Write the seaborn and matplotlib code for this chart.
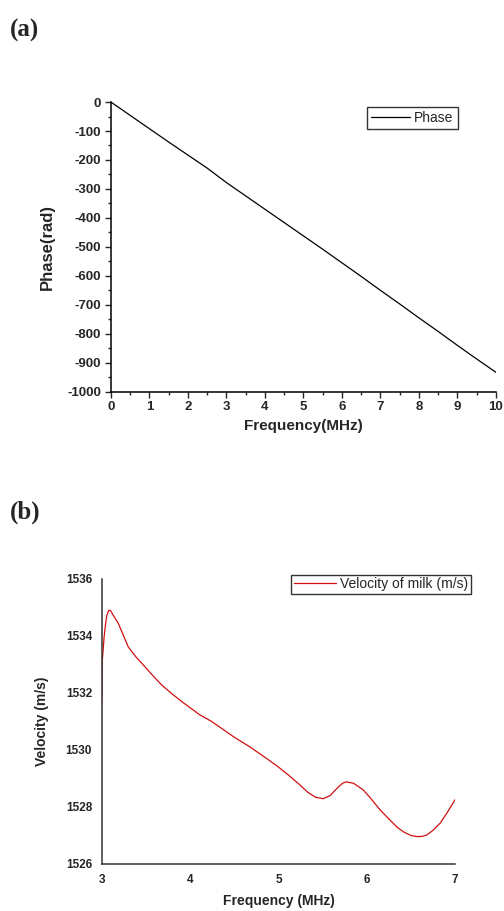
import matplotlib
matplotlib.use("Agg")
import matplotlib.pyplot as plt
import seaborn as sns
import pandas as pd
from matplotlib.ticker import MultipleLocator

sns.set_style("ticks")
plt.rcParams['font.family'] = ['Liberation Sans', 'DejaVu Sans']
plt.rcParams['axes.unicode_minus'] = False

# Panel (a): phase vs frequency
phase_freq = [0, 0.5, 1, 1.5, 2, 2.5, 3, 3.5, 4, 4.5, 5, 5.5, 6, 6.5, 7, 7.5, 8, 8.5, 9, 9.5, 10]
phase_vals = [0, -46, -92, -138, -183, -228, -278, -324, -370, -416, -462, -508, -555, -602, -650, -697, -745, -792, -840, -887, -933]

# Panel (b): velocity of milk vs frequency
vel_freq = [3.0, 3.003, 3.006, 3.015, 3.026, 3.04, 3.055, 3.079, 3.1, 3.13, 3.185, 3.24, 3.298, 3.39,
            3.487, 3.58, 3.677, 3.79, 3.903, 4.11, 4.243, 4.488, 4.68, 4.866, 5.0, 5.12, 5.244,
            5.33, 5.42, 5.508, 5.584, 5.678, 5.73, 5.77, 5.85, 5.96, 6.05, 6.15, 6.25, 6.34,
            6.42, 6.5, 6.57, 6.63, 6.68, 6.75, 6.83, 6.91, 7.0]
vel_vals = [1531.65, 1532.3, 1533.16, 1533.5, 1533.96, 1534.35, 1534.7, 1534.9, 1534.88, 1534.72,
            1534.45, 1534.05, 1533.62, 1533.25, 1532.92, 1532.6, 1532.28, 1531.98, 1531.7, 1531.23,
            1531.0, 1530.47, 1530.1, 1529.7, 1529.4, 1529.1, 1528.77, 1528.52, 1528.34, 1528.29,
            1528.4, 1528.7, 1528.84, 1528.88, 1528.83, 1528.6, 1528.28, 1527.9, 1527.58, 1527.3,
            1527.12, 1527.0, 1526.96, 1526.97, 1527.02, 1527.18, 1527.43, 1527.8, 1528.26]

df_a = pd.DataFrame({"Frequency": phase_freq, "Phase": phase_vals})
df_b = pd.DataFrame({"Frequency": vel_freq, "Velocity": vel_vals})

fig = plt.figure(figsize=(5.04, 9.11), dpi=100)

# ---- (a)
ax1 = fig.add_axes([0.220, 0.570, 0.764, 0.318])
sns.lineplot(data=df_a, x="Frequency", y="Phase", ax=ax1, color="black", lw=0.9, label="Phase")
ax1.set_xlim(0, 10)
ax1.set_ylim(-1000, 0)
ax1.xaxis.set_major_locator(MultipleLocator(1))
ax1.xaxis.set_minor_locator(MultipleLocator(0.5))
ax1.yaxis.set_major_locator(MultipleLocator(100))
ax1.yaxis.set_minor_locator(MultipleLocator(50))
ax1.tick_params(which="major", length=4, width=1, direction="out", labelsize=9.5, pad=3)
ax1.tick_params(which="minor", length=2.5, width=1, direction="out")
for lab in ax1.get_xticklabels() + ax1.get_yticklabels():
    lab.set_fontweight("bold")
ax1.set_xlabel("Frequency(MHz)", fontsize=11, fontweight="bold", labelpad=4)
ax1.set_ylabel("Phase(rad)", fontsize=12, fontweight="bold", labelpad=9)
for s in ["top", "right"]:
    ax1.spines[s].set_visible(False)
for s in ["left", "bottom"]:
    ax1.spines[s].set_linewidth(1.1)
    ax1.spines[s].set_color("black")
leg1 = ax1.legend(loc="upper right", bbox_to_anchor=(0.901, 0.983), frameon=True, fancybox=False,
                  edgecolor="black", fontsize=10, handlelength=2.8, borderpad=0.3,
                  handletextpad=0.3, borderaxespad=0)
leg1.get_frame().set_linewidth(1.0)

# ---- (b)
ax2 = fig.add_axes([0.202, 0.0516, 0.701, 0.313])
sns.lineplot(data=df_b, x="Frequency", y="Velocity", ax=ax2, color="#d01010", lw=0.9,
             label="Velocity of milk (m/s)")
ax2.set_xlim(3, 7)
ax2.set_ylim(1526, 1536)
ax2.xaxis.set_major_locator(MultipleLocator(1))
ax2.yaxis.set_major_locator(MultipleLocator(2))
ax2.tick_params(which="major", length=0, labelsize=8.5, pad=7)
for lab in ax2.get_xticklabels() + ax2.get_yticklabels():
    lab.set_fontweight("bold")
ax2.set_xlabel("Frequency (MHz)", fontsize=10, fontweight="bold", labelpad=6)
ax2.set_ylabel("Velocity (m/s)", fontsize=10, fontweight="bold", labelpad=12)
for s in ["top", "right"]:
    ax2.spines[s].set_visible(False)
for s in ["left", "bottom"]:
    ax2.spines[s].set_linewidth(1.1)
    ax2.spines[s].set_color("#333333")
leg2 = ax2.legend(loc="upper right", bbox_to_anchor=(1.045, 1.015), frameon=True, fancybox=False,
                  edgecolor="black", fontsize=10, handlelength=3.0, borderpad=0.2,
                  handletextpad=0.3, borderaxespad=0)
leg2.get_frame().set_linewidth(1.0)

# panel letters
fig.text(0.02, 0.979, "(a)", fontsize=18, fontweight="bold", family="Liberation Serif", va="top")
fig.text(0.02, 0.451, "(b)", fontsize=18, fontweight="bold", family="Liberation Serif", va="top")

fig.savefig("out.png", dpi=100)
